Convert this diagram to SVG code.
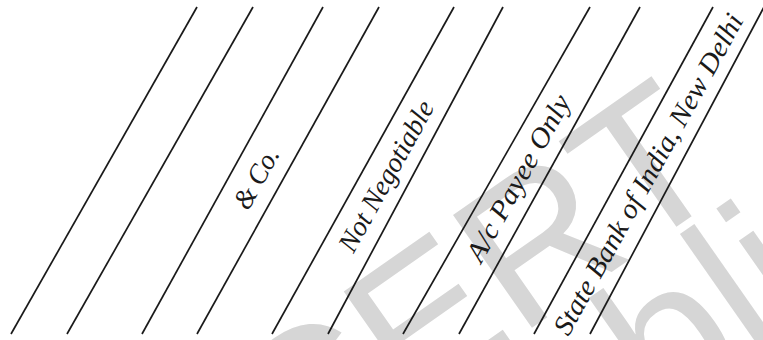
<svg xmlns="http://www.w3.org/2000/svg" width="763" height="340" viewBox="0 0 763 340">
<style>
.ln{stroke:#1a1a1a;stroke-width:1.7;fill:none;stroke-linecap:butt}
.lb{font-family:"Liberation Serif","Times New Roman",serif;font-style:italic;font-size:28px;fill:#1a1a1a;text-anchor:middle;dominant-baseline:central}
.wm{font-family:"Liberation Sans",Arial,sans-serif;font-size:200px;fill:#d6d6d6}
</style>
<rect width="763" height="340" fill="#ffffff"/>
<g id="watermark">
<text class="wm" transform="translate(333,654) rotate(-35)">republished</text>
<text class="wm" transform="translate(52,664) rotate(-35)">©NCERT</text>
</g>
<g id="connectors">
<line class="ln" x1="197" y1="7" x2="11" y2="334"/>
<line class="ln" x1="253" y1="7" x2="67" y2="334"/>
<line class="ln" x1="323" y1="7" x2="142" y2="334"/>
<line class="ln" x1="379" y1="7" x2="197" y2="334"/>
<line class="ln" x1="454" y1="7" x2="272" y2="334"/>
<line class="ln" x1="503" y1="7" x2="328" y2="334"/>
<line class="ln" x1="590" y1="7" x2="403" y2="334"/>
<line class="ln" x1="640" y1="7" x2="459" y2="334"/>
<line class="ln" x1="713" y1="7" x2="534" y2="334"/>
<line class="ln" x1="764" y1="7" x2="590" y2="334"/>
</g>
<g id="label-co"><text class="lb" transform="translate(256,178) rotate(-61)" textLength="66" lengthAdjust="spacingAndGlyphs">&amp; Co.</text></g>
<g id="label-not-negotiable"><text class="lb" transform="translate(386,176) rotate(-61)" textLength="168" lengthAdjust="spacingAndGlyphs">Not Negotiable</text></g>
<g id="label-ac-payee"><text class="lb" transform="translate(518,178) rotate(-61)" textLength="186" lengthAdjust="spacingAndGlyphs">A/c Payee Only</text></g>
<g id="label-sbi"><text class="lb" transform="translate(648,174) rotate(-61)" textLength="362" lengthAdjust="spacingAndGlyphs">State Bank of India, New Delhi</text></g>
</svg>
